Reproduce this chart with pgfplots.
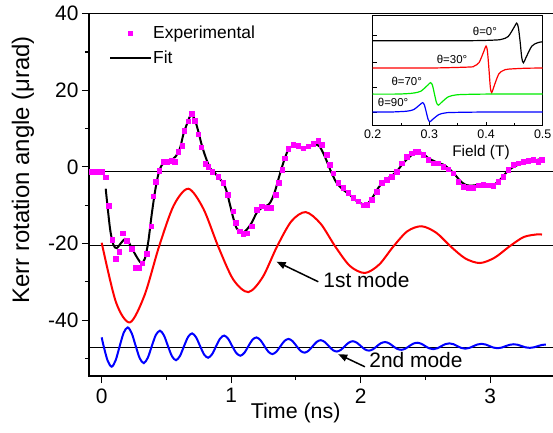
\documentclass[border=0pt]{standalone}
\usepackage{fontspec}
\setmainfont{Liberation Sans}
\usepackage{pgfplots}
\pgfplotsset{compat=1.18}
\usetikzlibrary{arrows.meta}

\definecolor{expmag}{RGB}{255,0,255}
\definecolor{insetgreen}{RGB}{0,235,0}

\begin{document}
\begin{tikzpicture}
\begin{axis}[
  name=main,
  scale only axis,
  width=465.5bp, height=362.3bp,
  xmin=-0.098, xmax=3.497,
  ymin=-54.6, ymax=40,
  xtick={0,1,2,3}, xticklabels={0,1,2,3},
  minor xtick={0.5,1.5,2.5},
  ytick={-40,-20,0,20,40}, yticklabels={-40,-20,0,20,40},
  minor ytick={-50,-30,-10,10,30},
  tick pos=left, tick align=outside,
  major tick length=7bp, minor tick length=4bp,
  axis line style={line width=1.2bp},
  every tick/.style={black, line width=1.1bp},
  tick label style={font=\fontsize{21}{21}\selectfont},
  xticklabel style={yshift=-2bp},
  xlabel={Time (ns)}, ylabel={Kerr rotation angle (μrad)},
  xlabel style={at={(axis description cs:0.444,-0.103)}, anchor=center, font=\fontsize{21.5}{21.5}\selectfont},
  ylabel style={at={(axis description cs:-0.142,0.569)}, anchor=center, font=\fontsize{24}{24}\selectfont},
  legend style={at={(axis description cs:0.043,0.972)}, anchor=north west,
    draw=none, fill=none, inner sep=0pt, row sep=7bp,
    font=\fontsize{17.5}{17.5}\selectfont, nodes={inner sep=2bp}},
  legend cell align=left,
  legend image code/.code={\draw[mark repeat=2,mark phase=2,#1] plot coordinates {(0bp,0bp) (20bp,0bp) (40bp,0bp)};},
]
% reference lines
\addplot[black, line width=1bp, forget plot] coordinates {(-0.1,-1.2) (3.6,-1.2)};
\addplot[black, line width=1bp, forget plot] coordinates {(-0.1,-20.6) (3.6,-20.6)};
\addplot[black, line width=1bp, forget plot] coordinates {(-0.1,-47.1) (3.6,-47.1)};

% 1st mode
\addplot[red, line width=2bp, smooth, forget plot] coordinates {
(0.000,-19.8) (0.110,-35.3) (0.218,-40.6) (0.331,-33.5) (0.443,-20.8)
(0.556,-10.1) (0.669,-5.7) (0.785,-10.9) (0.900,-20.8) (1.016,-29.4)
(1.132,-32.7) (1.243,-28.8) (1.354,-20.8) (1.465,-14.2) (1.575,-11.8)
(1.690,-14.8) (1.804,-20.8) (1.918,-25.9) (2.033,-27.7) (2.143,-25.5)
(2.252,-20.8) (2.361,-16.8) (2.471,-15.5) (2.584,-17.2) (2.696,-20.8)
(2.808,-23.9) (2.921,-25.1) (3.035,-23.7) (3.148,-20.8) (3.260,-18.3)
(3.370,-17.6) (3.400,-17.7)
};

% 2nd mode
\addplot[blue, line width=2bp, smooth, forget plot] coordinates {
(0.000,-44.5) (0.015,-46.8) (0.046,-50.60) (0.077,-52.17) (0.108,-50.48)
(0.139,-46.8) (0.170,-43.30) (0.201,-41.92) (0.232,-43.44) (0.263,-46.8)
(0.294,-49.98) (0.325,-51.24) (0.356,-49.84) (0.387,-46.8) (0.418,-43.90)
(0.450,-42.77) (0.481,-44.01) (0.512,-46.8) (0.543,-49.45) (0.574,-50.47)
(0.605,-49.33) (0.636,-46.8) (0.667,-44.40) (0.698,-43.47) (0.729,-44.50)
(0.760,-46.8) (0.791,-48.99) (0.822,-49.83) (0.853,-48.89) (0.884,-46.8)
(0.915,-44.81) (0.946,-44.05) (0.977,-44.90) (1.008,-46.8) (1.040,-48.61)
(1.071,-49.30) (1.102,-48.53) (1.133,-46.8) (1.164,-45.15) (1.195,-44.53)
(1.226,-45.23) (1.257,-46.8) (1.288,-48.30) (1.319,-48.87) (1.350,-48.23)
(1.381,-46.8) (1.412,-45.44) (1.443,-44.92) (1.474,-45.50) (1.505,-46.8)
(1.536,-48.04) (1.567,-48.51) (1.598,-47.98) (1.630,-46.8) (1.661,-45.68)
(1.692,-45.25) (1.723,-45.73) (1.754,-46.8) (1.785,-47.83) (1.816,-48.21)
(1.847,-47.77) (1.878,-46.8) (1.909,-45.87) (1.940,-45.52) (1.971,-45.92)
(2.002,-46.8) (2.033,-47.65) (2.064,-47.97) (2.095,-47.63) (2.126,-46.8)
(2.157,-46.03) (2.188,-45.74) (2.219,-46.05) (2.250,-46.8) (2.281,-47.50)
(2.313,-47.76) (2.344,-47.48) (2.375,-46.8) (2.406,-46.16) (2.437,-45.92)
(2.468,-46.18) (2.499,-46.8) (2.530,-47.38) (2.561,-47.60) (2.592,-47.36)
(2.623,-46.8) (2.654,-46.28) (2.685,-46.08) (2.716,-46.29) (2.747,-46.8)
(2.778,-47.28) (2.809,-47.46) (2.840,-47.26) (2.871,-46.8) (2.902,-46.37)
(2.934,-46.20) (2.965,-46.38) (2.996,-46.8) (3.027,-47.19) (3.058,-47.34)
(3.089,-47.18) (3.120,-46.8) (3.151,-46.45) (3.182,-46.31) (3.213,-46.45)
(3.244,-46.8) (3.275,-47.13) (3.306,-47.25) (3.337,-47.12) (3.368,-46.8)
(3.399,-46.50) (3.430,-46.39)
};

% experimental data
\addplot[only marks, mark=square*, mark size=2.3bp, color=expmag] coordinates {
(-0.077,-1.2) (-0.039,-1.2) (0.000,-1.2) (0.031,-2.7) (0.056,-10.1)
(0.082,-19.0) (0.110,-24.0) (0.136,-22.2) (0.162,-17.3) (0.193,-19.2)
(0.232,-21.4) (0.263,-26.4) (0.288,-26.4) (0.314,-25.1) (0.347,-22.7)
(0.381,-15.5) (0.399,-7.7) (0.419,-3.9) (0.445,-1.0) (0.476,1.4)
(0.507,1.4) (0.540,1.6) (0.566,1.4) (0.592,3.9) (0.622,5.6)
(0.638,9.5) (0.669,11.9) (0.695,13.9) (0.720,12.1) (0.746,8.5)
(0.767,5.1) (0.798,0.8) (0.823,0.1) (0.854,-1.3) (0.900,-2.5)
(0.939,-4.2) (0.973,-7.3) (1.016,-11.6) (1.037,-14.6) (1.068,-16.8)
(1.094,-17.5) (1.120,-17.3) (1.158,-15.5) (1.197,-11.2) (1.236,-10.3)
(1.274,-10.6) (1.307,-10.7) (1.344,-7.3) (1.369,-4.2) (1.395,-0.7)
(1.415,2.3) (1.441,4.8) (1.480,5.8) (1.518,5.6) (1.557,4.9)
(1.595,5.4) (1.634,6.0) (1.673,6.8) (1.699,5.8) (1.737,3.2)
(1.763,0.6) (1.788,-1.6) (1.827,-4.2) (1.866,-5.5) (1.904,-6.8)
(1.943,-8.1) (1.981,-9.0) (2.020,-10.0) (2.046,-9.9) (2.085,-8.6)
(2.124,-6.4) (2.162,-4.2) (2.201,-3.3) (2.239,-2.5) (2.278,-1.2)
(2.317,1.0) (2.355,2.7) (2.394,3.6) (2.420,4.0) (2.445,4.0)
(2.483,3.2) (2.522,1.9) (2.561,1.0) (2.599,1.0) (2.638,0.1)
(2.676,-0.6) (2.715,-1.6) (2.754,-3.8) (2.792,-5.1) (2.831,-5.4)
(2.869,-5.5) (2.908,-4.8) (2.947,-4.7) (2.985,-4.8) (3.024,-4.9)
(3.063,-3.9) (3.101,-2.5) (3.140,-0.7) (3.178,0.6) (3.217,1.0)
(3.256,1.4) (3.294,1.6) (3.333,1.9) (3.371,1.4) (3.398,1.9)
};
\addlegendentry{Experimental}

% fit
\addplot[black, line width=2bp, smooth, tension=0.5] coordinates {
(0.031,-5.7) (0.064,-16.0) (0.090,-20.3) (0.116,-21.2) (0.149,-19.9)
(0.180,-18.8) (0.206,-19.5) (0.232,-21.2) (0.283,-24.2) (0.309,-25.1)
(0.334,-23.9) (0.360,-19.5) (0.386,-12.5) (0.412,-6.4) (0.437,-2.0)
(0.463,0.4) (0.502,1.4) (0.545,1.9) (0.571,2.7) (0.605,4.9)
(0.630,8.4) (0.656,11.0) (0.682,13.2) (0.700,13.4) (0.720,12.3)
(0.746,9.3) (0.772,5.8) (0.798,3.0) (0.836,-0.3) (0.870,-1.4)
(0.900,-2.7) (0.939,-4.2) (0.965,-6.4) (0.991,-9.9) (1.016,-13.3)
(1.042,-16.0) (1.081,-17.3) (1.120,-16.4) (1.158,-14.6) (1.197,-12.0)
(1.236,-10.7) (1.287,-9.9) (1.313,-8.6) (1.338,-6.4) (1.364,-3.3)
(1.390,-0.3) (1.415,2.3) (1.441,4.5) (1.472,5.4) (1.518,5.1)
(1.557,4.8) (1.595,5.2) (1.634,5.8) (1.660,5.8) (1.686,5.2)
(1.711,3.6) (1.737,1.6) (1.763,-0.6) (1.790,-2.6) (1.815,-4.2)
(1.866,-6.0) (1.917,-7.3) (1.956,-8.6) (1.995,-9.4) (2.033,-9.9)
(2.059,-9.4) (2.097,-7.7) (2.136,-5.5) (2.175,-3.9) (2.213,-2.9)
(2.252,-2.0) (2.290,-0.7) (2.329,1.0) (2.368,2.3) (2.406,3.4)
(2.445,3.9) (2.483,3.4) (2.522,2.3) (2.561,1.6) (2.599,1.0)
(2.638,0.6) (2.676,-0.3) (2.728,-2.0) (2.767,-3.6) (2.806,-4.6)
(2.844,-4.9) (2.883,-4.8) (2.922,-4.6) (2.961,-4.8) (3.012,-4.8)
(3.050,-4.2) (3.089,-2.9) (3.127,-1.4) (3.166,-0.3) (3.205,0.4)
(3.243,0.8) (3.282,1.2) (3.320,1.4) (3.359,1.8) (3.402,2.1)
};
\addlegendentry{Fit}

% annotations
\draw[-{Triangle[length=9bp,width=7bp]}, line width=1.5bp] (axis cs:1.673,-30.0) -- (axis cs:1.351,-24.75);
\node[anchor=west, inner sep=0pt, font=\fontsize{21}{21}\selectfont] at (axis cs:1.711,-29.5) {1st mode};
\draw[-{Triangle[length=9bp,width=7bp]}, line width=1.5bp] (axis cs:2.033,-52.2) -- (axis cs:1.827,-48.9);
\node[anchor=west, inner sep=0pt, font=\fontsize{21}{21}\selectfont] at (axis cs:2.066,-50.4) {2nd mode};
\end{axis}

\begin{axis}[
  name=inset,
  at={(283.7bp,250bp)}, anchor=south west,
  scale only axis, width=170bp, height=110bp,
  xmin=0.2, xmax=0.5, ymin=0, ymax=10,
  xtick={0.2,0.3,0.4,0.5}, xticklabels={0.2,0.3,0.4,0.5},
  minor xtick={0.25,0.35,0.45},
  ytick={1.25,3.5,5.8,8.2}, yticklabels={},
  tick pos=left, tick align=inside,
  major tick length=4bp, minor tick length=2.5bp,
  every tick/.style={black, line width=0.9bp},
  axis line style={line width=1bp},
  axis background/.style={fill=white},
  tick label style={font=\fontsize{12.5}{12.5}\selectfont},
  xlabel={Field (T)},
  xlabel style={at={(axis description cs:0.637,-0.245)}, anchor=center, font=\fontsize{15.5}{15.5}\selectfont},
]
\addplot[black, line width=1.2bp, smooth] coordinates {
(0.2,7.75) (0.3,7.75) (0.38,7.76) (0.4184,7.82) (0.4288,7.90) (0.4392,8.14)
(0.4496,8.98) (0.454,9.35) (0.4569,8.99) (0.46,7.75) (0.4631,6.19) (0.466,5.75)
(0.4704,6.21) (0.4808,7.26) (0.4912,7.57) (0.5,7.66)
};
\addplot[red, line width=1.2bp, smooth] coordinates {
(0.2,5.27) (0.3,5.27) (0.3702,5.36) (0.3789,5.45) (0.3876,5.76) (0.3963,6.81)
(0.400,7.27) (0.4024,6.83) (0.405,5.27) (0.4076,3.53) (0.410,3.03) (0.4137,3.55)
(0.4224,4.72) (0.4311,5.06) (0.4398,5.17) (0.47,5.25) (0.5,5.27)
};
\addplot[insetgreen, line width=1.2bp, smooth] coordinates {
(0.2,2.9) (0.24,2.9) (0.2606,2.94) (0.2727,3.0) (0.2848,3.16) (0.2969,3.70)
(0.302,3.94) (0.3054,3.71) (0.309,2.9) (0.3126,2.12) (0.316,1.90) (0.3211,2.13)
(0.3332,2.65) (0.3453,2.81) (0.3574,2.86) (0.4,2.9) (0.5,2.9)
};
\addplot[blue, line width=1.2bp, smooth] coordinates {
(0.2,1.27) (0.23,1.27) (0.2493,1.31) (0.2606,1.35) (0.2719,1.48) (0.2832,1.93)
(0.288,2.12) (0.2911,1.93) (0.2945,1.27) (0.2979,0.59) (0.301,0.39) (0.3058,0.60)
(0.3171,1.05) (0.3284,1.19) (0.3397,1.23) (0.4,1.27) (0.5,1.27)
};
\node[font=\fontsize{11.5}{11.5}\selectfont, inner sep=0pt] at (axis cs:0.398,8.58) {θ=0°};
\node[font=\fontsize{11.5}{11.5}\selectfont, inner sep=0pt] at (axis cs:0.340,6.06) {θ=30°};
\node[font=\fontsize{11.5}{11.5}\selectfont, inner sep=0pt] at (axis cs:0.260,4.03) {θ=70°};
\node[font=\fontsize{11.5}{11.5}\selectfont, inner sep=0pt] at (axis cs:0.236,2.12) {θ=90°};
\end{axis}

\pgfresetboundingbox
\path[use as bounding box] (-89bp,-57bp) rectangle (464bp,376bp);
\end{tikzpicture}
\end{document}
